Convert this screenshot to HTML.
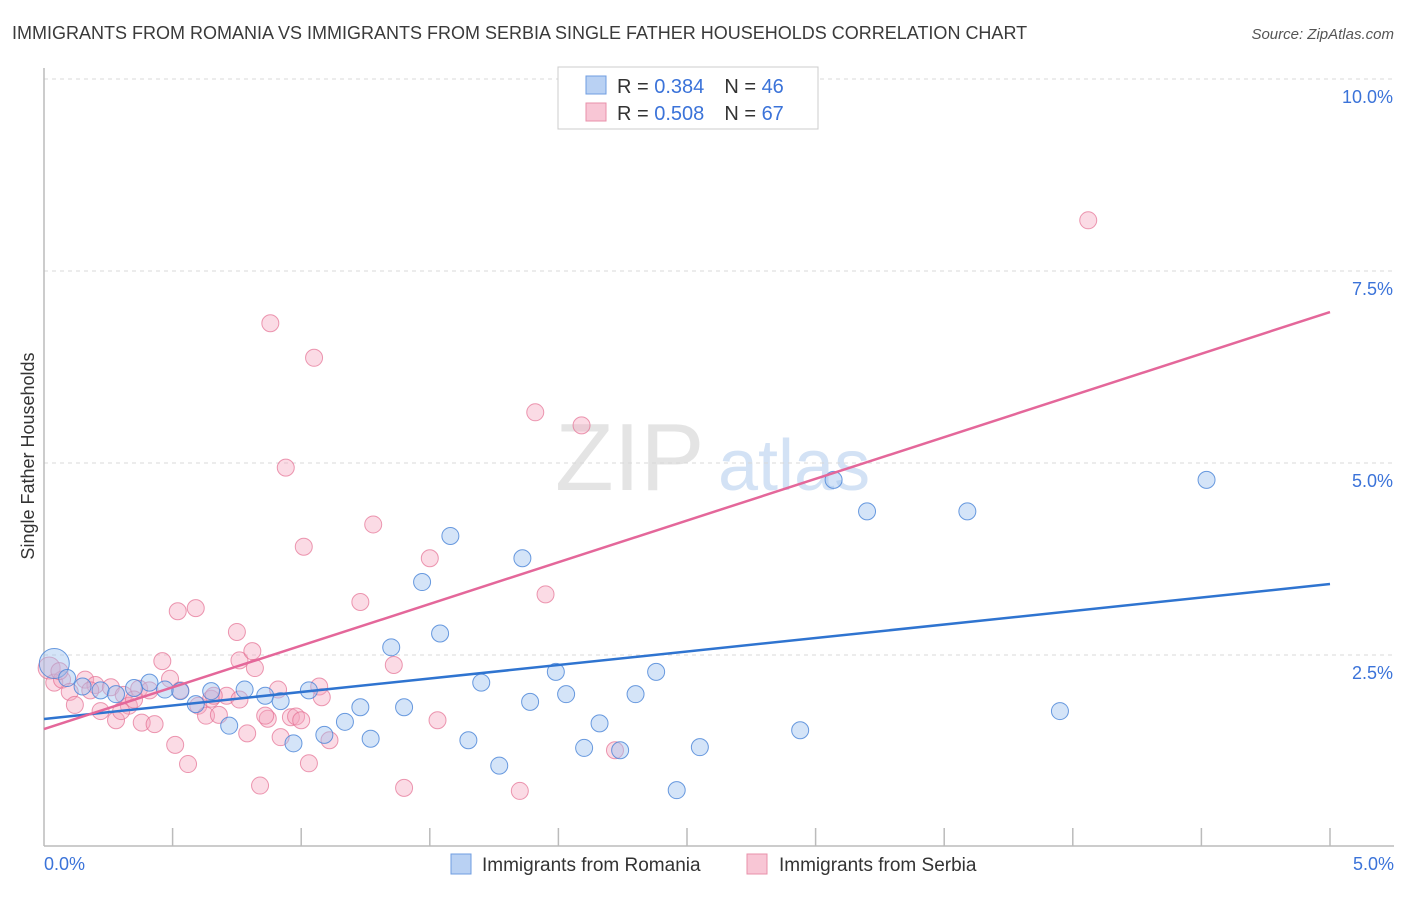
<!DOCTYPE html>
<html><head><meta charset="utf-8"><style>
body{margin:0;background:#fff;font-family:"Liberation Sans",sans-serif;}
svg text{font-family:"Liberation Sans",sans-serif;}
</style></head><body>
<svg id="chart" width="1406" height="892" viewBox="0 0 1406 892" xmlns="http://www.w3.org/2000/svg">
<text x="12" y="39" font-size="18" fill="#3a3a3a">IMMIGRANTS FROM ROMANIA VS IMMIGRANTS FROM SERBIA SINGLE FATHER HOUSEHOLDS CORRELATION CHART</text>
<text x="1394" y="39" font-size="15" fill="#555" text-anchor="end" font-style="italic">Source: ZipAtlas.com</text>
<text x="555" y="490" font-size="96" fill="#e4e4e4" font-family="Liberation Serif">ZIP</text>
<text x="718" y="490" font-size="72" fill="#d3e2f5">atlas</text>
<g id="grid"></g>
<g id="axes"></g>
<g id="points"></g>
<g id="lines"></g>
<text transform="translate(34,456) rotate(-90)" font-size="18" fill="#333" text-anchor="middle">Single Father Households</text>
<text x="44" y="870" font-size="18" fill="#3b73d9">0.0%</text>
<text x="1394" y="870" font-size="18" fill="#3b73d9" text-anchor="end">5.0%</text>
<g>
<rect x="558" y="67" width="260" height="62" fill="#fff" stroke="#ccc"/>
<rect x="586" y="76" width="20" height="18" fill="#b9d1f3" stroke="#6f9de0"/>
<rect x="586" y="103" width="20" height="18" fill="#f8c6d5" stroke="#e890aa"/>
<text x="617" y="93" font-size="20" fill="#333">R = <tspan fill="#3b73d9">0.384</tspan><tspan dx="20">N = </tspan><tspan fill="#3b73d9">46</tspan></text>
<text x="617" y="120" font-size="20" fill="#333">R = <tspan fill="#3b73d9">0.508</tspan><tspan dx="20">N = </tspan><tspan fill="#3b73d9">67</tspan></text>
</g>
<g>
<rect x="451" y="854" width="20" height="20" fill="#b9d1f3" stroke="#6f9de0"/>
<text x="482" y="871" font-size="19" fill="#333">Immigrants from Romania</text>
<rect x="747" y="854" width="20" height="20" fill="#f8c6d5" stroke="#e890aa"/>
<text x="779" y="871" font-size="19" fill="#333">Immigrants from Serbia</text>
</g>
</svg>
<script>
const yTicks=[2.5,5.0,7.5,10.0];
const yTickLabels=["2.5%","5.0%","7.5%","10.0%"];
const xTicks=[0.5,1,1.5,2,2.5,3,3.5,4,4.5,5];
const romaniaX=[0.04,0.09,0.15,0.22,0.28,0.35,0.41,0.47,0.53,0.59,0.65,0.72,0.78,0.86,0.92,0.97,1.03,1.09,1.17,1.23,1.27,1.35,1.4,1.47,1.54,1.58,1.65,1.7,1.77,1.86,1.89,1.99,2.03,2.1,2.16,2.24,2.3,2.38,2.46,2.55,2.94,3.07,3.2,3.59,3.95,4.52];
const romaniaY=[2.39,2.2,2.09,2.04,1.99,2.07,2.14,2.05,2.03,1.86,2.03,1.58,2.05,1.97,1.9,1.35,2.04,1.46,1.63,1.82,1.41,2.6,1.82,3.45,2.78,4.05,1.39,2.14,1.06,3.76,1.89,2.28,1.99,1.29,1.61,1.26,1.99,2.28,0.74,1.3,1.52,4.78,4.37,4.37,1.77,4.78];
const serbiaX=[0.02,0.04,0.07,0.1,0.12,0.16,0.2,0.22,0.26,0.28,0.31,0.33,0.37,0.38,0.43,0.46,0.49,0.51,0.52,0.56,0.59,0.6,0.63,0.65,0.68,0.71,0.75,0.76,0.79,0.81,0.82,0.84,0.87,0.88,0.91,0.92,0.94,0.96,0.98,1.01,1.03,1.05,1.07,1.08,1.11,1.23,1.28,1.36,1.4,1.5,1.53,1.85,1.91,1.95,2.09,2.22,4.06,0.06,0.18,0.3,0.41,0.66,0.35,0.76,0.53,0.86,1.0];
const serbiaY=[2.33,2.14,2.18,2.02,1.85,2.18,2.11,1.77,2.08,1.65,1.98,1.84,2.06,1.62,1.6,2.42,2.19,1.33,3.07,1.08,3.11,1.84,1.71,1.93,1.72,1.97,2.8,2.43,1.48,2.55,2.33,0.8,1.67,6.82,2.05,1.43,4.94,1.69,1.7,3.91,1.09,6.37,2.09,1.95,1.39,3.19,4.2,2.37,0.77,3.76,1.65,0.73,5.66,3.29,5.49,1.26,8.16,2.29,2.04,1.77,2.04,1.97,1.92,1.92,2.04,1.71,1.65];
const trendRomania=[1.667,3.424];
const trendSerbia=[1.536,6.966];
const NS="http://www.w3.org/2000/svg";
const X=v=>44+v*257.2, Y=v=>847-v*76.8;
function mk(tag,attrs,parent){const e=document.createElementNS(NS,tag);for(const k in attrs)e.setAttribute(k,attrs[k]);document.getElementById(parent).appendChild(e);return e;}
yTicks.forEach((t,i)=>{
 const l=mk('line',{x1:44,x2:1394,y1:Y(t),y2:Y(t),stroke:'#d8d8d8','stroke-dasharray':'4,4'},'grid');
 
 
 const tx=mk('text',{x:1393,y:Y(t)+24,'font-size':18,fill:'#3b73d9','text-anchor':'end'},'grid');
 tx.textContent=yTickLabels[i];
 
 
});
const ya=mk('line',{x1:44,x2:44,y1:68,y2:846,stroke:'#bbb','stroke-width':1.5},'axes');


const xa=mk('line',{x1:44,x2:1394,y1:846,y2:846,stroke:'#bbb','stroke-width':1.5},'axes');


xTicks.forEach(t=>{
 const l=mk('line',{x1:X(t),x2:X(t),y1:828,y2:846,stroke:'#bbb','stroke-width':1.5},'axes');
 
 
});
serbiaX.forEach((x,i)=>{
 const c=mk('circle',{cx:X(x),cy:Y(serbiaY[i]),r:i===0?11:8.5,fill:'rgba(244,165,190,0.4)',stroke:'rgba(228,110,145,0.7)','stroke-width':1},'points');
 
 
});
romaniaX.forEach((x,i)=>{
 const c=mk('circle',{cx:X(x),cy:Y(romaniaY[i]),r:i===0?15:8.5,fill:'rgba(160,195,240,0.45)',stroke:'rgba(70,130,215,0.8)','stroke-width':1},'points');
 
 
});
const lb=mk('line',{x1:X(0),y1:Y(trendRomania[0]),x2:X(5),y2:Y(trendRomania[1]),stroke:'#2f74d0','stroke-width':2.5},'lines');


const lp=mk('line',{x1:X(0),y1:Y(trendSerbia[0]),x2:X(5),y2:Y(trendSerbia[1]),stroke:'#e4679a','stroke-width':2.5},'lines');


</script>
</body></html>
